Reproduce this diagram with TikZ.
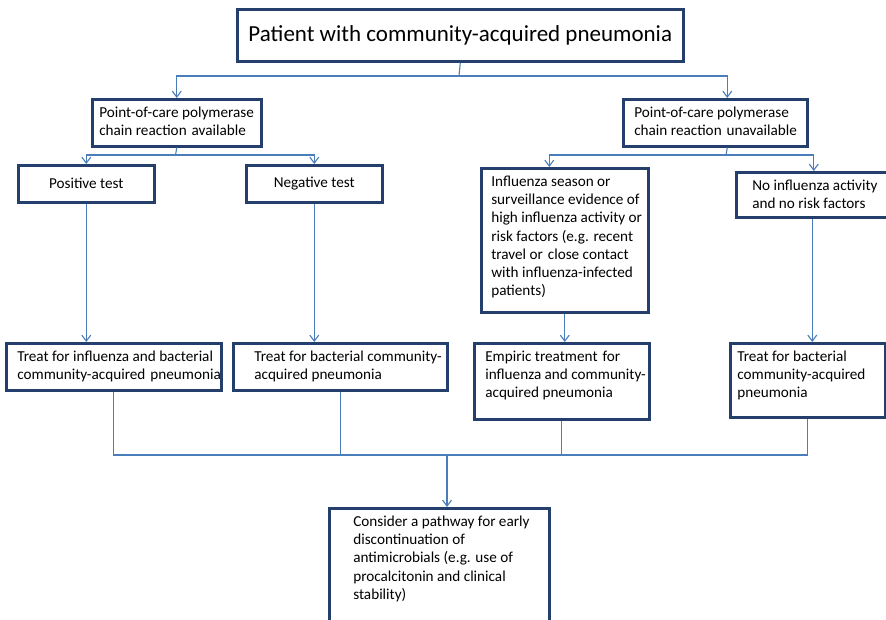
\documentclass[tikz,border=0pt]{standalone}
\usepackage{fontspec}
\setmainfont{Carlito}
\usetikzlibrary{arrows.meta}
\definecolor{boxc}{HTML}{243F6B}
\definecolor{linec}{HTML}{4A7EBB}
% H, W, top inset, left inset, text
\newcommand\bt[5]{\parbox[c][#1pt][t]{#2pt}{\vspace*{#3pt}\leftskip=#4pt\rightskip=0pt plus 1fil\noindent\strut #5}}
\newcommand\wsp{\kern1.5pt\ }
\begin{document}
\begin{tikzpicture}[x=1pt,y=-1pt,
  box/.style={draw=boxc, line width=2.6pt, fill=white, inner sep=0pt, anchor=north west,
    font=\fontsize{15.2}{18.3}\selectfont},
  conn/.style={draw=linec, line width=1.1pt},
  arr/.style={conn, -{Straight Barb[length=6pt,width=9pt]}}]
\useasboundingbox (0,0) rectangle (886,620);
\fill[white] (0,0) rectangle (886,620);

\node[box, minimum width=446, minimum height=52, font=\fontsize{23}{27}\selectfont] (top) at (236,8) {Patient with community-acquired pneumonia};

\node[box] (pcrA) at (91,98) {\bt{47}{169}{5.5}{7}{Point-of-care polymerase\\chain reaction\wsp available}};
\node[box] (pcrU) at (622,98) {\bt{47}{184}{5.5}{11}{Point-of-care polymerase\\chain reaction\wsp unavailable}};

\node[box, minimum width=136, minimum height=37] (pos) at (17,164) {Positive test};
\node[box, minimum width=136, minimum height=37] (neg) at (245,164) {Negative test};

\node[box] (flu) at (480,167) {\bt{144}{167}{5}{10}{Influenza season or\\surveillance evidence of\\high influenza activity or\\risk factors (e.g. recent\\travel or\wsp close contact\\with influenza-infected\\patients)}};
\node[box] (noflu) at (735,171) {\bt{45}{152}{5}{16}{No influenza activity\\and no risk factors}};

\node[box] (t1) at (5,342) {\bt{47}{215}{5}{11}{Treat for influenza and bacterial\\community-acquired\wsp pneumonia}};
\node[box] (t2) at (232,342) {\bt{47}{214}{5}{21}{Treat for bacterial community-\\acquired pneumonia}};
\node[box] (emp) at (473,342) {\bt{76}{175}{5}{11}{Empiric treatment\wsp for\\influenza and community-\\acquired pneumonia}};
\node[box] (t3) at (729,342) {\bt{74}{155}{5}{7}{Treat for bacterial\\community-acquired\\pneumonia}};

\node[box] (final) at (328,507) {\bt{116}{220}{5}{24}{Consider a pathway for early\\discontinuation of\\antimicrobials (e.g. use of\\procalcitonin and clinical\\stability)}};

% level 1
\coordinate (j1) at (459,76);
\draw[conn] (top.south) -- (j1);
\draw[arr] (j1) -| (pcrA.north);
\draw[arr] (j1) -| ([xshift=12pt]pcrU.north);
% level 2 left
\coordinate (j2) at (175.5,155);
\draw[conn] (pcrA.south) -- (j2);
\draw[arr] (j2) -| (pos.north);
\draw[arr] (j2) -| (neg.north);
% level 2 right
\coordinate (j3) at (726,155);
\draw[conn] ([xshift=12pt]pcrU.south) -- (j3);
\draw[arr] (j3) -| ([xshift=-15.5pt]flu.north);
\draw[arr] (j3) -| ([xshift=1.5pt]noflu.north);
% level 3
\draw[arr] (pos.south) -- (pos.south |- t1.north);
\draw[arr] (neg.south) -- (neg.south |- t2.north);
\draw[arr] (flu.south) -- (flu.south |- emp.north);
\draw[arr] (noflu.south) -- (noflu.south |- t3.north);
% merge
\coordinate (j4) at (447,455);
\draw[conn] (t1.south) |- (t3.south |- j4) -- (t3.south);
\draw[conn] (t2.south) -- (t2.south |- j4);
\draw[conn] (emp.south) -- (emp.south |- j4);
\draw[arr] (j4) -- (j4 |- final.north);
\end{tikzpicture}
\end{document}
